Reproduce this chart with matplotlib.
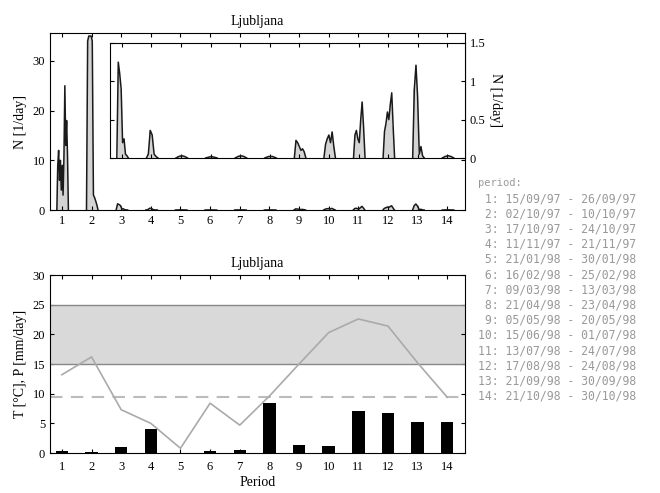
import numpy as np
import matplotlib.pyplot as plt

plt.rcParams['font.family'] = ['Liberation Serif', 'DejaVu Serif']

periods = list(range(1, 15))
period_ranges = ["15/09/97 - 26/09/97", "02/10/97 - 10/10/97", "17/10/97 - 24/10/97",
                 "11/11/97 - 21/11/97", "21/01/98 - 30/01/98", "16/02/98 - 25/02/98",
                 "09/03/98 - 13/03/98", "21/04/98 - 23/04/98", "05/05/98 - 20/05/98",
                 "15/06/98 - 01/07/98", "13/07/98 - 24/07/98", "17/08/98 - 24/08/98",
                 "21/09/98 - 30/09/98", "21/10/98 - 30/10/98"]

# Daily counts N [1/day] within each period
N_p1 = [0, 9, 12, 6, 10, 4, 9, 3, 11, 25, 13, 18, 11, 0]
N_p2 = [0, 34, 35, 35, 35, 34, 3, 2.5, 1.8, 1.0, 0]
N_p3 = [0, 1.25, 1.1, 0.9, 0.2, 0.25, 0.05, 0.03, 0]
N_p4 = [0, 0.05, 0.36, 0.3, 0.05, 0.02, 0]
N_p5 = [0, 0.02, 0.03, 0.02, 0]
N_p6 = [0, 0.01, 0.02, 0.01, 0]
N_p7 = [0, 0.02, 0.03, 0.02, 0]
N_p8 = [0, 0.02, 0.02, 0]
N_p9 = [0, 0.23, 0.2, 0.15, 0.1, 0.12, 0.08, 0]
N_p10 = [0, 0.18, 0.25, 0.3, 0.2, 0.34, 0.15, 0]
N_p11 = [0, 0.3, 0.36, 0.25, 0.2, 0.5, 0.73, 0.4, 0]
N_p12 = [0, 0.35, 0.45, 0.6, 0.5, 0.7, 0.85, 0.4, 0]
N_p13 = [0, 0.9, 1.21, 0.8, 0.05, 0.15, 0.03, 0]
N_p14 = [0, 0.02, 0.03, 0.02, 0]
N_all = [N_p1, N_p2, N_p3, N_p4, N_p5, N_p6, N_p7, N_p8, N_p9, N_p10,
         N_p11, N_p12, N_p13, N_p14]

# Temperature and precipitation per period
T_mean = [13.2, 16.2, 7.3, 5.0, 0.8, 8.4, 4.7, 9.6, 15.0, 20.3, 22.6, 21.4, 15.2, 9.4]
P_mean = [0.4, 0.1, 1.0, 4.0, 0.0, 0.3, 0.5, 8.4, 1.3, 1.2, 7.1, 6.7, 5.2, 5.2]
T_band = (15, 25)
T_threshold = 9.4

fig = plt.figure(figsize=(6.6, 4.93), dpi=100)

def style(ax):
    ax.tick_params(direction='in', top=True, right=True, labelsize=9, length=3)

def draw_counts(ax):
    for p, vals in zip(periods, N_all):
        x = p + np.linspace(-0.17, 0.22, len(vals))
        ax.fill_between(x, 0, vals, color='#d4d4d4', lw=0, step='mid')
        ax.plot(x, vals, color='#1a1a1a', lw=1.1)

# ---------- top panel ----------
ax1 = fig.add_axes([0.0758, 0.574, 0.6288, 0.359])
draw_counts(ax1)
ax1.set_xlim(0.6, 14.6)
ax1.set_ylim(0, 35.6)
ax1.set_xticks(periods)
ax1.set_yticks([0, 10, 20, 30])
ax1.set_ylabel('N [1/day]', fontsize=10)
ax1.set_title('Ljubljana', fontsize=10)
style(ax1)

axin = fig.add_axes([0.1667, 0.6795, 0.5379, 0.2333])
draw_counts(axin)
axin.set_xlim(2.6, 14.6)
axin.set_ylim(0, 1.5)
axin.set_xticks(periods[2:])
axin.set_yticks([0, 0.5, 1, 1.5])
axin.set_yticklabels(['0', '0.5', '1', '1.5'])
axin.tick_params(direction='in', top=True, right=True, left=True,
                 labelleft=False, labelright=True, labelbottom=False,
                 labelsize=9, length=3)
axin.yaxis.set_label_position('right')
axin.set_ylabel('N [1/day]', fontsize=10, rotation=270, labelpad=12)

# ---------- bottom panel ----------
ax2 = fig.add_axes([0.0758, 0.0811, 0.6288, 0.361])
ax2.axhspan(T_band[0], T_band[1], facecolor='#d9d9d9', edgecolor='none')
ax2.axhline(T_band[0], color='#888888', lw=1.0)
ax2.axhline(T_band[1], color='#888888', lw=1.0)
ax2.axhline(T_threshold, color='#bbbbbb', lw=1.5, dashes=(6, 4))
ax2.bar(periods, P_mean, width=0.42, color='black')
ax2.plot(periods, T_mean, color='#aaaaaa', lw=1.2)
ax2.set_xlim(0.6, 14.6)
ax2.set_ylim(0, 30)
ax2.set_xticks(periods)
ax2.set_yticks([0, 5, 10, 15, 20, 25, 30])
ax2.set_xlabel('Period', fontsize=10, labelpad=2)
ax2.set_ylabel('T [°C], P [mm/day]', fontsize=10)
ax2.set_title('Ljubljana', fontsize=10)
style(ax2)
ax2.tick_params(axis='x', pad=6)

# ---------- period legend ----------
y0 = 1 - 183 / 493
dy = 15.2 / 493
fig.text(0.724, y0, 'period:', family='DejaVu Sans Mono', fontsize=7.5,
         color='#999999', va='center')
for i, r in zip(periods, period_ranges):
    fig.text(0.724, y0 - i * dy - 0.001, f"{i:2d}: {r}", family='DejaVu Sans Mono',
             fontsize=8.3, color='#999999', va='center')

fig.savefig('out.png', dpi=100)
